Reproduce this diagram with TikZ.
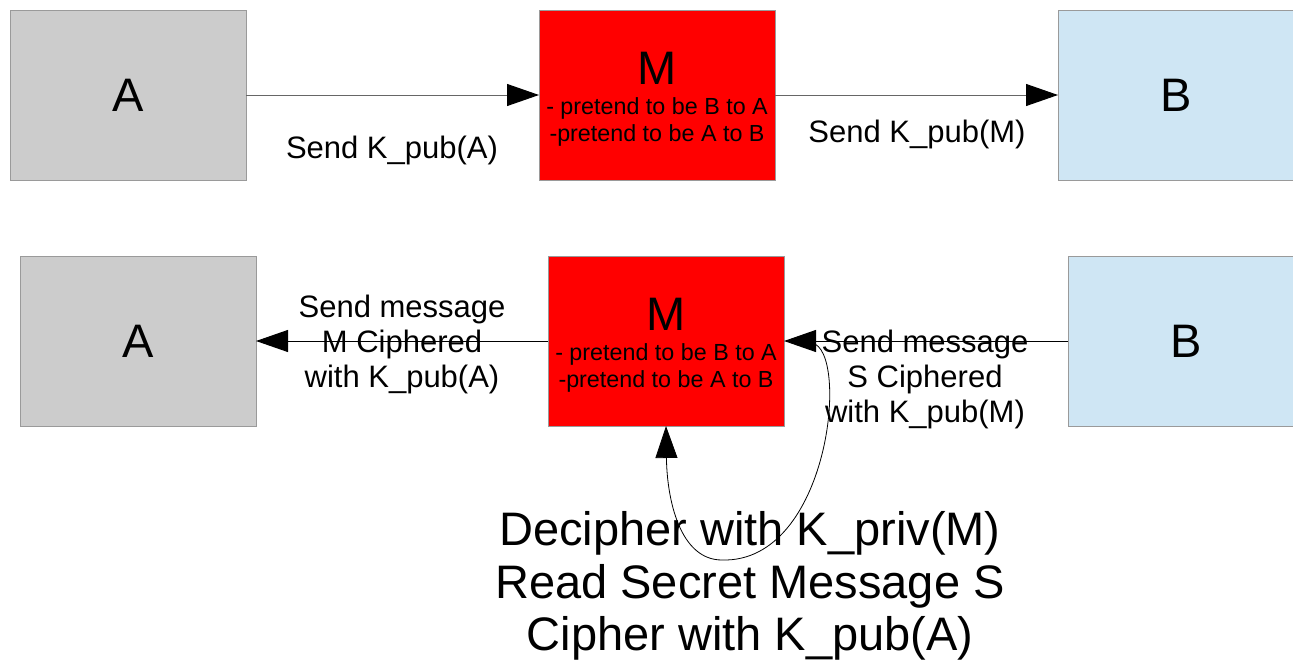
\documentclass[tikz,border=0pt]{standalone}
\usepackage{fontspec}
\setmainfont{Liberation Sans}
\usetikzlibrary{arrows.meta}
\definecolor{boxgray}{HTML}{CCCCCC}
\definecolor{boxred}{HTML}{FF0000}
\definecolor{boxblue}{HTML}{CFE6F4}
\definecolor{edgegray}{HTML}{9A9A9A}
\tikzset{
  box/.style={draw=edgegray, line width=1pt, minimum width=236pt, minimum height=170pt, inner sep=0pt, outer sep=0pt},
  party/.style={font=\fontsize{47}{50}\selectfont},
  note/.style={font=\fontsize{23.3}{27}\selectfont, align=center, inner sep=0pt},
  lbl/.style={font=\fontsize{31}{35}\selectfont, align=center, inner sep=0pt},
  arr/.style={line width=1pt, -{Triangle[length=32pt, width=22pt, color=black]}},
}
\begin{document}
\begin{tikzpicture}[x=1pt, y=-1pt]
\useasboundingbox (0,0) rectangle (1293,662);

% first exchange: key swap
\node[box, fill=boxgray] (A1) at (128,95) {};
\node[box, fill=boxred]  (M1) at (657,95) {};
\node[box, fill=boxblue] (B1) at (1176,95) {};
\node[party] (tA1) at (A1) {A};
\node[party] (tB1) at (B1) {B};
\node[party] (tM1) at (657,68) {M};
\node[note] (nM1) at (657,122) {- pretend to be B to A\\-pretend to be A to B};

\draw[arr, draw=black!60] (A1.east) -- (M1.west);
\draw[arr, draw=black!60] (M1.east) -- (B1.west);
\node[lbl] (l1) at (392,150) {Send K\_pub(A)};
\node[lbl] (l2) at (917,134) {Send K\_pub(M)};

% second exchange: message relay
\node[box, fill=boxgray] (A2) at (138,341) {};
\node[box, fill=boxred]  (M2) at (666,341) {};
\node[box, fill=boxblue] (B2) at (1186,341) {};
\node[party] (tA2) at (A2) {A};
\node[party] (tB2) at (B2) {B};
\node[party] (tM2) at (666,314) {M};
\node[note] (nM2) at (666,368) {- pretend to be B to A\\-pretend to be A to B};

\draw[arr] (M2.west) -- (A2.east);
\draw[arr] (B2.west) -- (M2.east);
\node[lbl] (l3) at (402,344) {Send message\\M Ciphered\\with K\_pub(A)};
\node[lbl] (l4) at (925,379) {Send message\\S Ciphered\\with K\_pub(M)};

% M reads the message and re-ciphers it
\coordinate (loopstart) at (812,343);
\draw[arr, line width=0.8pt] (loopstart) .. controls (850,350) and (830,563) .. (722,560)
  .. controls (680,560) and (667,500) .. (M2.south);
\node[font=\fontsize{47}{52.5}\selectfont, align=center, inner sep=0pt] (steps) at (750,586)
  {Decipher with K\_priv(M)\\Read Secret Message S\\Cipher with K\_pub(A)};
\end{tikzpicture}
\end{document}
